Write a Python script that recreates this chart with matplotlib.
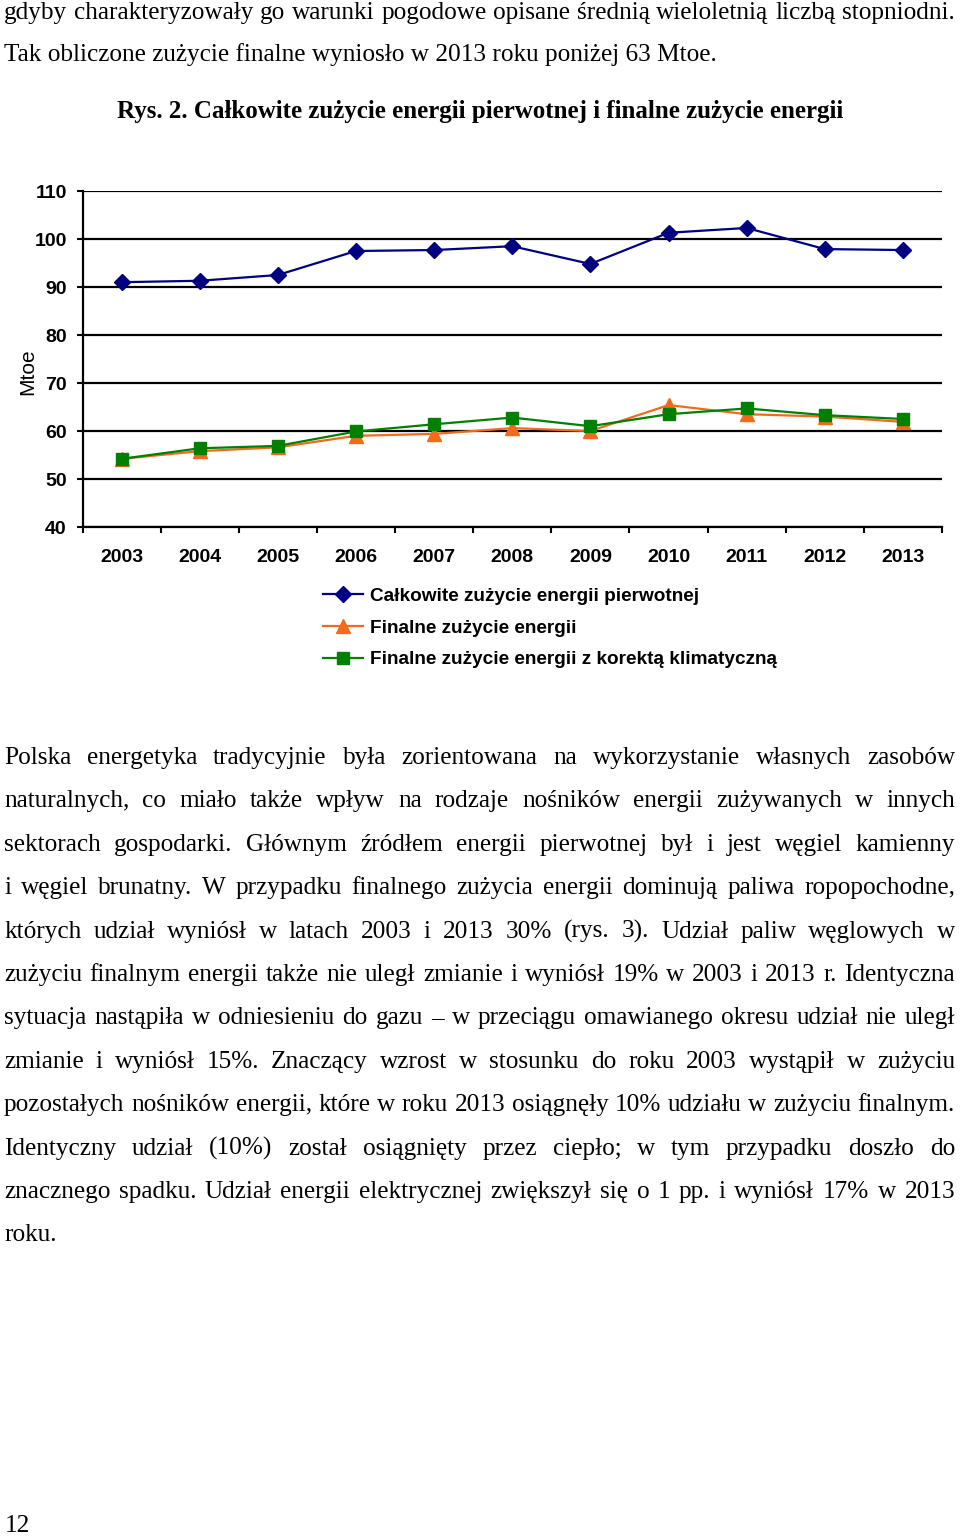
import numpy as np
import matplotlib
matplotlib.use('Agg')
import matplotlib.pyplot as plt

# values (Mtoe)
years = ['2003', '2004', '2005', '2006', '2007', '2008', '2009', '2010', '2011', '2012', '2013']
primary = [91.0, 91.3, 92.5, 97.5, 97.7, 98.5, 94.8, 101.3, 102.3, 97.9, 97.7]
final = [54.2, 55.8, 56.6, 59.0, 59.4, 60.6, 60.0, 65.4, 63.5, 63.0, 61.9]
final_corr = [54.2, 56.4, 56.9, 59.9, 61.4, 62.8, 61.0, 63.5, 64.7, 63.3, 62.5]
series_labels = ['Całkowite zużycie energii pierwotnej',
                 'Finalne zużycie energii',
                 'Finalne zużycie energii z korektą klimatyczną']
y_ticks = [40, 50, 60, 70, 80, 90, 100, 110]

top_lines = ['gdyby charakteryzowały go warunki pogodowe opisane średnią wieloletnią liczbą stopniodni.',
             'Tak obliczone zużycie finalne wyniosło w 2013 roku poniżej 63 Mtoe.']
title = 'Rys. 2. Całkowite zużycie energii pierwotnej i finalne zużycie energii'
paragraph = [
    'Polska energetyka tradycyjnie była zorientowana na wykorzystanie własnych zasobów',
    'naturalnych, co miało także wpływ na rodzaje nośników energii zużywanych w innych',
    'sektorach gospodarki. Głównym źródłem energii pierwotnej był i jest węgiel kamienny',
    'i węgiel brunatny. W przypadku finalnego zużycia energii dominują paliwa ropopochodne,',
    'których udział wyniósł w latach 2003 i 2013 30% (rys. 3). Udział paliw węglowych w',
    'zużyciu finalnym energii także nie uległ zmianie i wyniósł 19% w 2003 i 2013 r. Identyczna',
    'sytuacja nastąpiła w odniesieniu do gazu – w przeciągu omawianego okresu udział nie uległ',
    'zmianie i wyniósł 15%. Znaczący wzrost w stosunku do roku 2003 wystąpił w zużyciu',
    'pozostałych nośników energii, które w roku 2013 osiągnęły 10% udziału w zużyciu finalnym.',
    'Identyczny udział (10%) został osiągnięty przez ciepło; w tym przypadku doszło do',
    'znacznego spadku. Udział energii elektrycznej zwiększył się o 1 pp. i wyniósł 17% w 2013',
    'roku.',
]

W, H = 960, 1537
fig = plt.figure(figsize=(9.6, 15.37), dpi=100)
renderer = fig.canvas.get_renderer()
SERIF = 'Liberation Serif'
SANS = 'Liberation Sans'


def width_of(s, size, **kw):
    t = fig.text(0, 0, s, fontsize=size, **kw)
    w = t.get_window_extent(renderer).width
    t.remove()
    return w


def put_line(s, y, size, justify, x0=4, x1=955, **kw):
    if not justify:
        fig.text(x0 / W, 1 - y / H, s, fontsize=size, va='baseline', ha='left', **kw)
        return
    words = s.split(' ')
    widths = [width_of(w_, size, **kw) for w_ in words]
    gap = (x1 - x0 - sum(widths)) / (len(words) - 1)
    x = x0
    for w_, ww in zip(words, widths):
        fig.text(x / W, 1 - y / H, w_, fontsize=size, va='baseline', ha='left', **kw)
        x += ww + gap


# body font size fitted to the natural width of a short line
body = dict(family=SERIF)
body_size = 10 * 712 / width_of(top_lines[1], 10, **body)
put_line(top_lines[0], 19, body_size, True, **body)
put_line(top_lines[1], 61, body_size, False, **body)

tkw = dict(family=SERIF, weight='bold')
title_size = 10 * 733 / width_of(title, 10, **tkw)
fig.text(480 / W, 1 - 118 / H, title, fontsize=title_size, ha='center', va='baseline', **tkw)

for i, line in enumerate(paragraph):
    put_line(line, 764 + 43.4 * i, body_size, i < len(paragraph) - 1, **body)

fig.text(5 / W, 1 - 1532 / H, '12', fontsize=body_size, ha='left', va='baseline', **body)

# chart
ax = fig.add_axes([82.5 / W, 1 - 527 / H, (942 - 82.5) / W, 336 / H])
x = np.arange(len(years))
ax.plot(x, primary, color='#000080', marker='D', ms=8.5, lw=1.6, label=series_labels[0], zorder=3)
ax.plot(x, final, color='#F26B1D', marker='^', ms=9.5, lw=1.6, label=series_labels[1], zorder=4)
ax.plot(x, final_corr, color='#008000', marker='s', ms=9, lw=1.6, label=series_labels[2], zorder=5)

ax.set_xlim(-0.5, len(years) - 0.5)
ax.set_ylim(40, 110)
ax.set_yticks(y_ticks)
ax.yaxis.grid(True, color='black', lw=1.6)
ax.set_axisbelow(True)
ax.set_xticks(x)
ax.set_xticklabels(years)
ax.set_xticks(np.arange(-0.5, len(years)), minor=True)
ax.tick_params(axis='x', which='major', length=0, pad=16)
ax.tick_params(axis='x', which='minor', length=4.5, width=1.5, direction='out')
ax.tick_params(axis='y', length=4.5, width=1.5, direction='out', pad=6.8)
for lab in ax.get_xticklabels() + ax.get_yticklabels():
    lab.set_fontfamily(SANS)
    lab.set_fontweight('bold')
    lab.set_fontsize(14)
for s in ['top', 'right']:
    ax.spines[s].set_visible(False)
for s in ['left', 'bottom']:
    ax.spines[s].set_linewidth(1.6)

fig.text(28 / W, 1 - 372 / H, 'Mtoe', rotation=90, ha='center', va='center',
         fontsize=15, family=SANS)

leg = fig.legend(*ax.get_legend_handles_labels(), loc='upper left',
                 bbox_to_anchor=(323 / W, 1 - 587.5 / H), frameon=False,
                 borderpad=0, borderaxespad=0, handlelength=2.1, handletextpad=0.37,
                 labelspacing=0.76, prop=dict(family=SANS, weight='bold', size=13.7))

fig.savefig('out.png', dpi=100)
